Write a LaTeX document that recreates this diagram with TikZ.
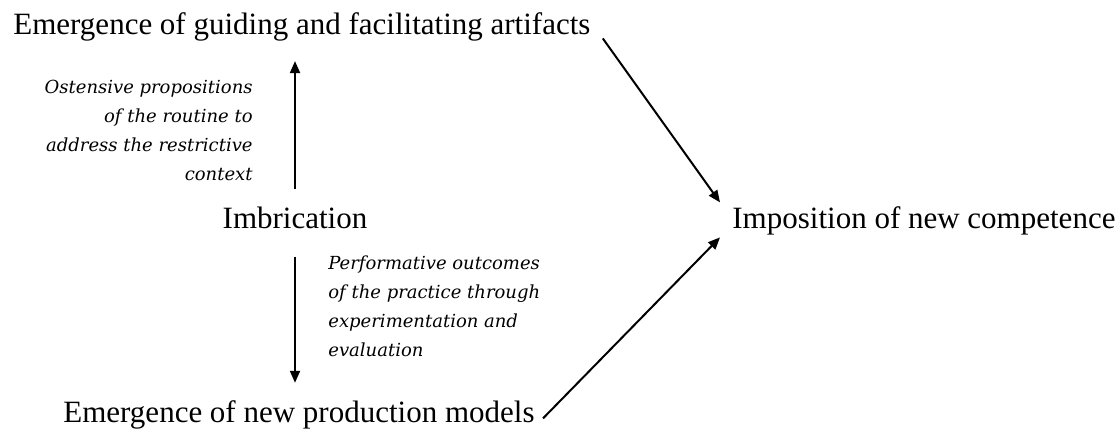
\documentclass[tikz,border=0pt]{standalone}
\usepackage{fontspec}
\setmainfont{Liberation Serif}
\newfontfamily\notefont{DejaVu Serif}
\usetikzlibrary{arrows.meta,calc}
\begin{document}
\begin{tikzpicture}[x=0.5pt,y=-0.5pt,
	stage/.style={inner sep=0pt,anchor=base west,font=\fontsize{15.5}{18}\selectfont},
	note/.style={inner sep=0pt,font=\notefont\itshape\fontsize{9}{14.5}\selectfont},
	flow/.style={-{Triangle[length=6pt,width=5pt]},line width=1pt}]
		\useasboundingbox (0,0) rectangle (1119,429);
		\node[stage] (top) at (13,34) {Emergence of guiding and facilitating artifacts};
		\node[stage,anchor=base] (imbr) at (295,228) {Imbrication};
		\node[stage] (bottom) at (63,422) {Emergence of new production models};
		\node[stage] (impos) at (732,228) {Imposition of new competence};
		\node[note,align=right,anchor=north east] (ost) at (253,80) {Ostensive propositions\\of the routine to\\address the restrictive\\context};
		\node[note,align=left,anchor=north west] (perf) at (328,255) {Performative outcomes\\of the practice through\\experimentation and\\evaluation};
		\draw[flow,shorten <=8.5pt,shorten >=10pt] (imbr.north) -- (imbr.north |- top.south);
		\draw[flow,shorten <=14pt,shorten >=8.5pt] (imbr.south) -- (imbr.south |- bottom.north);
		\draw[flow] ($(top.east)+(12,12)$) -- ($(impos.west)+(-12,-18)$);
		\draw[flow] ($(bottom.east)+(8,4)$) -- ($(impos.west)+(-12,17)$);
	\end{tikzpicture}
\end{document}
